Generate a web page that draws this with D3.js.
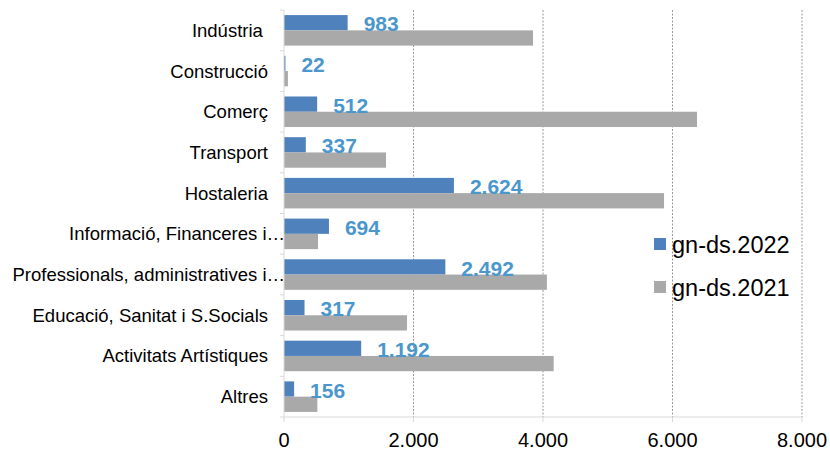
<!DOCTYPE html>
<html>
<head>
<meta charset="utf-8">
<script src="https://cdn.jsdelivr.net/npm/d3@7"></script>
<style>
  body { margin: 0; background: #fff; }
  text { font-family: "Liberation Sans", Arial, sans-serif; }
</style>
</head>
<body>
<div id="chart"></div>
<script>
"use strict";

// chart data
var categories = ["Indústria ", "Construcció", "Comerç", "Transport", "Hostaleria",
    "Informació, Financeres i…", "Professionals, administratives i…",
    "Educació, Sanitat i S.Socials", "Activitats Artístiques", "Altres"];
var values2022 = [983, 22, 512, 337, 2624, 694, 2492, 317, 1192, 156];
var values2021 = [3846, 60, 6378, 1575, 5869, 525, 4060, 1900, 4165, 515];
var seriesNames = ["gn-ds.2022", "gn-ds.2021"];
var xTicks = [0, 2000, 4000, 6000, 8000];

var colors = ["#4f81bd", "#a9a9a9"];
var width = 830, height = 452;
var margin = { top: 10, right: 28, bottom: 35, left: 284 };
var innerW = width - margin.left - margin.right,
    innerH = height - margin.top - margin.bottom;

var fmt = d3.formatLocale({ decimal: ",", thousands: ".", grouping: [3], currency: ["", ""] }).format(",");

var svg = d3.select("#chart").append("svg")
    .attr("width", width)
    .attr("height", height);
var g = svg.append("g")
    .attr("transform", "translate(" + margin.left + "," + margin.top + ")");

var x = d3.scaleLinear().domain([0, 8000]).range([0, innerW]);
var y = d3.scaleBand().domain(categories).range([0, innerH])
    .paddingInner(0.25).paddingOuter(0.125);
var ySub = d3.scaleBand().domain([0, 1]).range([0, y.bandwidth()]);
var step = y.step();

// dotted grid
g.selectAll(".grid")
    .data(xTicks.slice(1))
    .enter().append("line")
    .attr("x1", function (d) { return x(d); })
    .attr("x2", function (d) { return x(d); })
    .attr("y1", 0)
    .attr("y2", innerH)
    .attr("stroke", "#9a9a9a")
    .attr("stroke-dasharray", "2,1.5")
    .attr("stroke-width", 1);

// bars
var groups = g.selectAll(".cat")
    .data(categories)
    .enter().append("g")
    .attr("transform", function (d) { return "translate(0," + y(d) + ")"; });

groups.append("rect")
    .attr("x", 0)
    .attr("y", ySub(0))
    .attr("width", function (d, i) { return x(values2022[i]); })
    .attr("height", ySub.bandwidth())
    .attr("fill", colors[0]);

groups.append("rect")
    .attr("x", 0)
    .attr("y", ySub(1))
    .attr("width", function (d, i) { return x(values2021[i]); })
    .attr("height", ySub.bandwidth())
    .attr("fill", colors[1]);

// data labels for 2022
groups.append("text")
    .attr("x", function (d, i) { return x(values2022[i]) + 16; })
    .attr("y", ySub(0) + ySub.bandwidth() + 1)
    .attr("fill", "#4b97cc")
    .attr("font-weight", "bold")
    .attr("font-size", "21px")
    .text(function (d, i) { return fmt(values2022[i]); });

// axes
g.append("line")
    .attr("x1", 0).attr("x2", 0)
    .attr("y1", 0).attr("y2", innerH)
    .attr("stroke", "#d9d9d9");
g.selectAll(".ltick")
    .data(d3.range(categories.length + 1))
    .enter().append("line")
    .attr("x1", -4).attr("x2", 0)
    .attr("y1", function (d) { return d * step; })
    .attr("y2", function (d) { return d * step; })
    .attr("stroke", "#d9d9d9");

g.append("line")
    .attr("x1", 0).attr("x2", innerW)
    .attr("y1", innerH).attr("y2", innerH)
    .attr("stroke", "#d9d9d9");
g.selectAll(".btick")
    .data(xTicks)
    .enter().append("line")
    .attr("x1", function (d) { return x(d); })
    .attr("x2", function (d) { return x(d); })
    .attr("y1", innerH).attr("y2", innerH + 5)
    .attr("stroke", "#d9d9d9");

g.selectAll(".xlabel")
    .data(xTicks)
    .enter().append("text")
    .attr("x", function (d) { return x(d); })
    .attr("y", innerH + 23)
    .attr("text-anchor", "middle")
    .attr("dominant-baseline", "central")
    .attr("font-size", "20px")
    .attr("fill", "#000")
    .text(function (d) { return fmt(d); });

// category labels (long ones are cut by the axis)
g.selectAll(".ylabel")
    .data(categories)
    .enter().append("text")
    .attr("x", function (d) { return d.slice(-1) === "…" ? 1 : -16; })
    .attr("y", function (d) { return y(d) + y.bandwidth() / 2; })
    .attr("text-anchor", "end")
    .attr("dominant-baseline", "central")
    .attr("font-size", "18.5px")
    .attr("fill", "#000")
    .style("white-space", "pre")
    .text(function (d) { return d; });

// legend
var legend = svg.append("g").attr("transform", "translate(654,238)");
var li = legend.selectAll("g")
    .data(seriesNames)
    .enter().append("g")
    .attr("transform", function (d, i) { return "translate(0," + (i * 43) + ")"; });
li.append("rect")
    .attr("width", 12).attr("height", 12)
    .attr("fill", function (d, i) { return colors[i]; });
li.append("text")
    .attr("x", 18).attr("y", 7)
    .attr("dominant-baseline", "central")
    .attr("font-size", "23.5px")
    .attr("fill", "#000")
    .text(function (d) { return d; });
</script>
</body>
</html>
